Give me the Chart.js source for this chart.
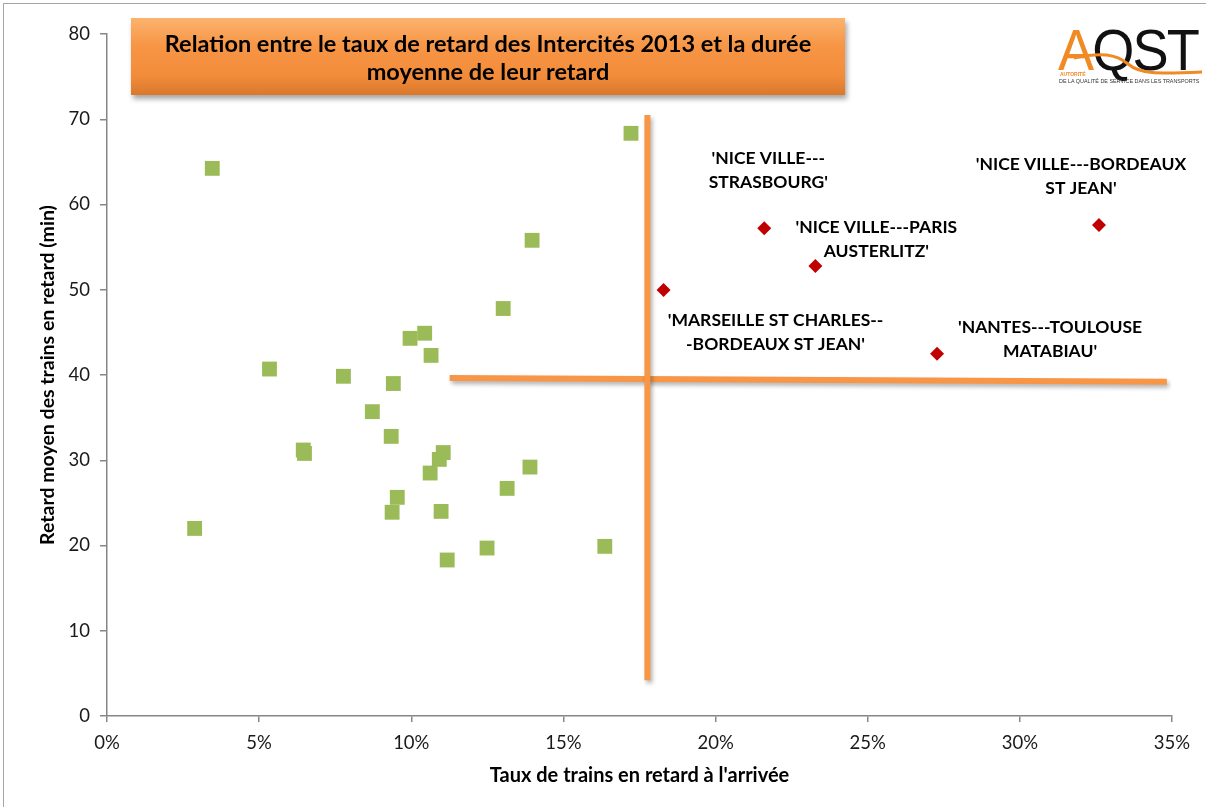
<!DOCTYPE html>
<html>
<head>
<meta charset="utf-8">
<script src="https://cdn.jsdelivr.net/npm/chart.js@4.4.0/dist/chart.umd.min.js"></script>
<style>
    html, body { margin: 0; padding: 0; background: #fff; }
    #wrap { position: relative; width: 1206px; height: 807px; overflow: hidden; }
    #chart { position: absolute; left: 0; top: 0; }
    #frame { position: absolute; left: 3px; top: 3px; width: 1210px; height: 810px;
        border-left: 1px solid #a6a6a6; border-top: 1px solid #a6a6a6; }
    #titleBox {
        position: absolute; left: 131px; top: 18px; width: 714px; height: 77px;
        background: linear-gradient(to bottom, #fbb36e 0%, #f79646 35%, #f28c3a 75%, #d9782c 100%);
        box-shadow: 2px 4px 5px rgba(0,0,0,0.35);
        font-family: Lato, 'Open Sans', sans-serif; font-weight: bold; font-size: 23.5px;
        color: #000; text-align: center; line-height: 28px; padding-top: 11px; box-sizing: border-box;
        white-space: nowrap;
    }
    #logo { position: absolute; left: 1056px; top: 22px; width: 150px; height: 70px;
        font-family: 'Liberation Sans', sans-serif; }
    #logo .big { position: absolute; left: 2px; top: -5px; font-size: 57px; letter-spacing: -2px;
        font-weight: normal; color: #111; transform: scaleX(0.95); transform-origin: 0 0; white-space: nowrap; }
    #logo .big span { color: #f08a24; }
    #logo .small1 { position: absolute; left: 4px; top: 49px; font-size: 5px; color: #f08a24; font-weight: bold; }
    #logo .small2 { position: absolute; left: 3px; top: 56px; font-size: 6px; color: #333; white-space: nowrap;
        transform: scaleX(0.9); transform-origin: 0 0; }
    #logo svg { position: absolute; left: 0; top: 0; }
</style>
</head>
<body>
<div id="wrap">
    <canvas id="chart" width="1206" height="807"></canvas>
    <div id="frame"></div>
    <div id="titleBox">Relation entre le taux de retard des Intercités 2013 et la durée<br>moyenne de leur retard</div>
    <div id="logo">
        <div class="big"><span>A</span>QST</div>
        <svg width="150" height="70"><path d="M18 36 C 45 30, 60 32, 72 42 S 100 52, 146 50" stroke="#f08a24" stroke-width="3" fill="none"/></svg>
        <div class="small1">AUTORITÉ</div>
        <div class="small2">DE LA QUALITÉ DE SERVICE DANS LES TRANSPORTS</div>
    </div>
</div>
<script>
    // trains Intercités : taux de retard (%) / retard moyen (min)
    const greenX = [17.22, 3.46, 13.97, 13.02, 10.44, 9.96, 10.65, 5.34, 7.77, 9.41, 8.72, 9.34, 6.45, 6.49,
        11.05, 10.92, 10.62, 13.9, 13.15, 9.54, 9.37, 10.98, 2.88, 12.49, 16.36, 11.18]
    const greenY = [68.35, 64.24, 55.8, 47.8, 44.9, 44.3, 42.3, 40.7, 39.85, 39.0, 35.7, 32.8, 31.2, 30.8,
        30.9, 30.1, 28.5, 29.2, 26.7, 25.65, 23.9, 24.0, 22.0, 19.7, 19.9, 18.3]

    const redX = [18.29, 21.6, 23.28, 27.28, 32.6]
    const redY = [49.97, 57.2, 52.8, 42.5, 57.6]
    const redNames = [
        ["'MARSEILLE ST CHARLES--", "-BORDEAUX ST JEAN'"],
        ["'NICE VILLE---", "STRASBOURG'"],
        ["'NICE VILLE---PARIS", "AUSTERLITZ'"],
        ["'NANTES---TOULOUSE", "MATABIAU'"],
        ["'NICE VILLE---BORDEAUX", "ST JEAN'"],
    ]

    // seuils (traits orange)
    const vLineX = [17.76, 17.76]
    const vLineY = [70.5, 4.2]
    const hLineX = [11.26, 34.83]
    const hLineY = [39.65, 39.2]

    const xTicks = [0, 5, 10, 15, 20, 25, 30, 35]
    const yTicks = [0, 10, 20, 30, 40, 50, 60, 70, 80]

    // placement des etiquettes (px, relatif au point)
    const labelOffsets = [[112, 30], [4, -70], [61, -39], [113, -26], [-18, -61]]

    const toPoints = (xs, ys) => xs.map((x, i) => ({x: x, y: ys[i]}))

    const labelPlugin = {
        id: 'redLabels',
        afterDatasetsDraw(chart) {
            const ctx = chart.ctx
            const meta = chart.getDatasetMeta(1)
            ctx.save()
            ctx.font = 'bold 17.5px Lato, sans-serif'
            ctx.fillStyle = '#000'
            ctx.textAlign = 'center'
            ctx.textBaseline = 'middle'
            meta.data.forEach((pt, i) => {
                const off = labelOffsets[i]
                redNames[i].forEach((line, j) => {
                    ctx.fillText(line, pt.x + off[0], pt.y + off[1] + j * 24)
                })
            })
            ctx.restore()
        }
    }

    const shadowPlugin = {
        id: 'lineShadow',
        beforeDatasetDraw(chart, args) {
            if (args.index >= 2) {
                chart.ctx.save()
                chart.ctx.shadowColor = 'rgba(0,0,0,0.3)'
                chart.ctx.shadowBlur = 4
                chart.ctx.shadowOffsetX = 2
                chart.ctx.shadowOffsetY = 3
            }
        },
        afterDatasetDraw(chart, args) {
            if (args.index >= 2) chart.ctx.restore()
        }
    }

    const axisColor = '#868686'
    const tickFont = {family: 'Lato, sans-serif', size: 18.5}

    new Chart(document.getElementById('chart'), {
        type: 'scatter',
        data: {
            datasets: [
                {
                    data: toPoints(greenX, greenY),
                    pointStyle: 'rect',
                    pointRadius: 10.5,
                    backgroundColor: '#9bbb59',
                    borderWidth: 0,
                },
                {
                    data: toPoints(redX, redY),
                    pointStyle: 'rectRot',
                    pointRadius: 7,
                    backgroundColor: '#c00000',
                    borderWidth: 0,
                },
                {
                    type: 'line',
                    data: toPoints(vLineX, vLineY),
                    borderColor: '#f79646',
                    borderWidth: 6,
                    pointRadius: 0,
                    borderCapStyle: 'butt',
                },
                {
                    type: 'line',
                    data: toPoints(hLineX, hLineY),
                    borderColor: '#f79646',
                    borderWidth: 6,
                    pointRadius: 0,
                    borderCapStyle: 'butt',
                },
            ]
        },
        options: {
            responsive: false,
            animation: false,
            layout: {padding: {top: 34, right: 34, left: 0, bottom: 0}},
            plugins: {
                legend: {display: false},
                tooltip: {enabled: false},
            },
            scales: {
                x: {
                    type: 'linear',
                    min: 0,
                    max: 35,
                    afterBuildTicks: (s) => { s.ticks = xTicks.map(v => ({value: v})) },
                    afterFit: (s) => { s.height = 91 },
                    border: {color: axisColor, width: 1.5},
                    grid: {drawOnChartArea: false, drawTicks: true, tickLength: 6, color: axisColor, lineWidth: 1.5},
                    ticks: {
                        color: '#1a1a1a', font: tickFont, padding: 10, maxRotation: 0,
                        callback: (v) => v + '%'
                    },
                    title: {
                        display: true,
                        text: "Taux de trains en retard à l'arrivée",
                        color: '#000',
                        font: {family: 'Lato, sans-serif', size: 20, weight: 'bold'},
                        padding: {top: 0, bottom: 19},
                    }
                },
                y: {
                    min: 0,
                    max: 80,
                    afterBuildTicks: (s) => { s.ticks = yTicks.map(v => ({value: v})) },
                    afterFit: (s) => { s.width = 107 },
                    border: {color: axisColor, width: 1.5},
                    grid: {drawOnChartArea: false, drawTicks: true, tickLength: 7, color: axisColor, lineWidth: 1.5},
                    ticks: {color: '#1a1a1a', font: tickFont, padding: 10},
                    title: {
                        display: true,
                        text: 'Retard moyen des trains en retard (min)',
                        color: '#000',
                        font: {family: 'Lato, sans-serif', size: 19.5, weight: 'bold'},
                        padding: {top: 36, bottom: 0},
                    }
                }
            }
        },
        plugins: [labelPlugin, shadowPlugin]
    })
</script>
</body>
</html>
